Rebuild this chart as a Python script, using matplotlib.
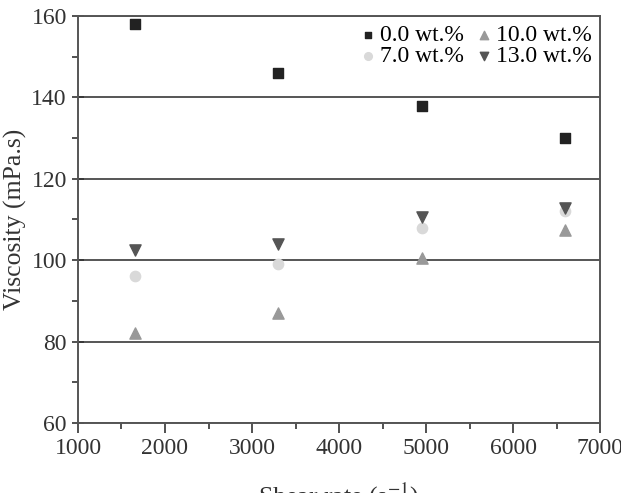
import matplotlib

matplotlib.use("Agg")
import matplotlib.pyplot as plt
from matplotlib.ticker import MultipleLocator

plt.rcParams["font.family"] = ["Liberation Serif", "DejaVu Serif"]
plt.rcParams["mathtext.fontset"] = "stix"

shear_rate = [1650, 3300, 4950, 6600]
visc_0 = [158, 146, 138, 130]
visc_7 = [96, 99, 108, 112]
visc_10 = [82, 87, 100.5, 107.5]
visc_13 = [102.5, 104, 110.5, 112.8]

fig = plt.figure(figsize=(6.21, 4.93), dpi=100)
ax = fig.add_axes([0.1256, 0.142, 0.8406, 0.8256])

ax.scatter(shear_rate, visc_0, marker="s", s=45, color="#222222", label="0.0 wt.%", zorder=3)
ax.scatter(shear_rate, visc_7, marker="o", s=55, color="#d9d9d9", label="7.0 wt.%", zorder=3)
ax.scatter(shear_rate, visc_10, marker="^", s=65, color="#999999", label="10.0 wt.%", zorder=3)
ax.scatter(shear_rate, visc_13, marker="v", s=65, color="#555555", label="13.0 wt.%", zorder=3)

ax.set_xlim(1000, 7000)
ax.set_ylim(60, 160)
ax.xaxis.set_major_locator(MultipleLocator(1000))
ax.xaxis.set_minor_locator(MultipleLocator(500))
ax.yaxis.set_major_locator(MultipleLocator(20))
ax.yaxis.set_minor_locator(MultipleLocator(10))
ax.tick_params(which="major", length=7, width=1.2, labelsize=17, colors="#333333")
ax.tick_params(axis="y", which="major", direction="inout", length=9)
ax.tick_params(axis="x", which="major", direction="out")
ax.tick_params(which="minor", direction="out", length=4, width=1.2, colors="#333333")
ax.grid(axis="y", which="major", color="#555555", lw=1.4)
for sp in ax.spines.values():
    sp.set_color("#555555")
    sp.set_linewidth(1.4)

ax.set_xlabel("Shear rate (s$^{-1}$)", fontsize=18.5, color="#333333", labelpad=16)
ax.set_ylabel("Viscosity (mPa.s)", fontsize=18.5, color="#333333", labelpad=3)

ax.legend(loc="upper right", ncol=2, frameon=False, fontsize=17, handlelength=0.8,
          handletextpad=0.1, columnspacing=0.45, labelspacing=0.0, borderaxespad=0.15,
          markerscale=0.75, borderpad=0.2)

fig.savefig("out.png", dpi=100)
